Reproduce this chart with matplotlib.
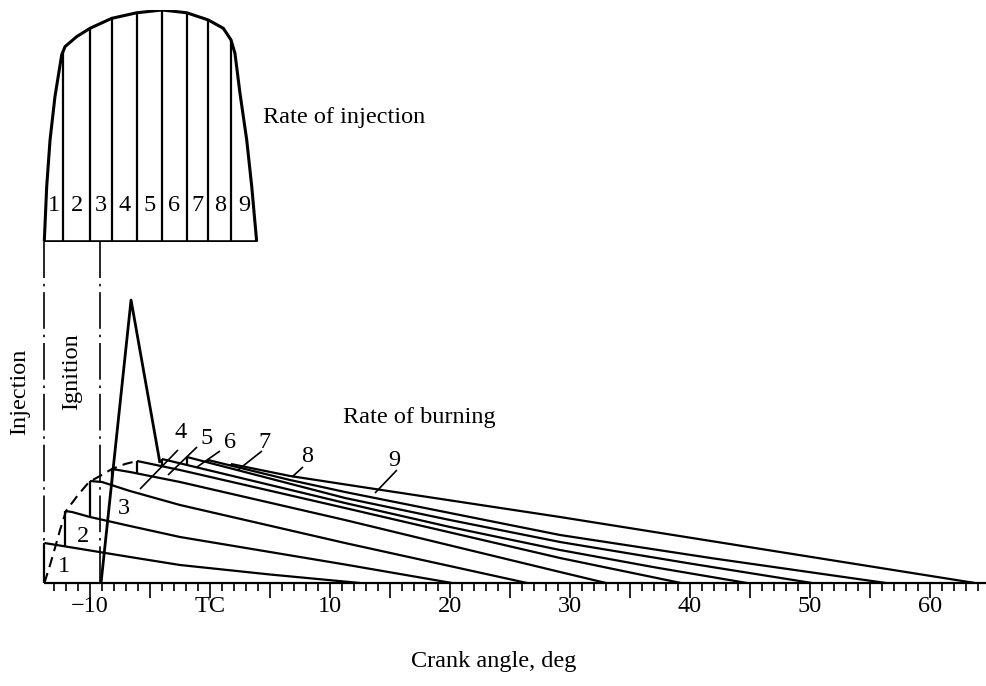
import numpy as np
import matplotlib.pyplot as plt

plt.rcParams['font.family'] = ['Liberation Serif', 'DejaVu Serif']

# crank angles (deg)
inj_start = -13.8
ign_angle = -9.15

# rate of injection outline (deg, rate normalised to peak)
inj_x = [-13.81, -13.61, -13.33, -12.92, -12.36, -12.08, -11.11, -10.0, -8.19, -6.11,
         -3.98, -1.94, -0.14, 1.11, 1.75, 2.08, 2.5, 3.06, 3.48, 3.89]
inj_r = [0.0, 0.237, 0.439, 0.626, 0.806, 0.842, 0.885, 0.921, 0.964, 0.988,
         1.0, 0.988, 0.957, 0.921, 0.871, 0.813, 0.640, 0.439, 0.237, 0.0]
slot_edges = [-12.22, -10.0, -8.19, -6.11, -3.98, -1.94, -0.14, 1.75]
slot_names = ['1', '2', '3', '4', '5', '6', '7', '8', '9']

# rate of burning of each injected element (deg, arbitrary rate)
b1_x = [-13.8, -6.67, -2.5, 5.0, 12.5]
b1_r = [4.0, 2.6, 1.8, 0.85, 0.0]
b2_x = [-12.08, -11.5, -10.0, -6.67, -2.5, 11.25, 20.17]
b2_r = [7.2, 7.1, 6.6, 5.7, 4.6, 1.85, 0.0]
b3_x = [-10.0, -9.0, -6.67, -2.5, 11.25, 26.42]
b3_r = [10.2, 10.1, 9.2, 7.8, 4.0, 0.0]
b4_x = [-8.17, -6.67, -2.5, 11.25, 29.17, 33.0]
b4_r = [11.4, 11.1, 10.1, 6.3, 1.1, 0.0]
b5_x = [-6.08, -2.5, 11.25, 29.17, 39.25]
b5_r = [12.2, 11.3, 7.5, 2.5, 0.0]
b6_x = [-4.0, 11.25, 20.0, 29.17, 37.0, 44.75]
b6_r = [12.4, 8.0, 5.6, 3.3, 1.58, 0.0]
b7_x = [-1.92, 11.25, 20.0, 29.17, 40.0, 50.17]
b7_r = [12.6, 8.5, 6.3, 4.1, 1.95, 0.0]
b8_x = [-0.17, 6.67, 11.25, 20.0, 29.17, 42.0, 56.33]
b8_r = [12.3, 10.3, 9.1, 7.0, 4.8, 2.45, 0.0]
b9_x = [1.75, 6.67, 13.75, 29.17, 63.75]
b9_r = [11.9, 10.7, 9.4, 6.6, 0.0]

# premixed spike after ignition
spike_x = [-9.08, -6.58, -4.17]
spike_r = [0.0, 28.3, 12.0]

# dashed envelope through the start points
env_x = [-13.8, -13.33, -12.92, -12.5, -12.0, -11.0, -10.08, -9.17, -8.17, -7.08, -6.08]
env_r = [0.0, 1.8, 3.5, 5.3, 7.2, 8.8, 10.1, 10.7, 11.4, 11.9, 12.2]

# labels of the burning curves and their leader lines
lab_x = [-12.17, -10.58, -7.17, -2.42, -0.25, 1.67, 4.58, 8.08, 15.33]
lab_r = [1.7, 4.7, 7.5, 15.0, 14.5, 14.1, 14.0, 12.7, 12.2]
lead = {4: [(-2.67, 13.3), (-5.83, 9.4)], 5: [(-1.08, 13.6), (-3.5, 10.8)],
        6: [(0.83, 13.2), (-1.08, 11.6)], 7: [(4.33, 13.2), (2.33, 11.3)],
        8: [(7.75, 11.6), (6.83, 10.6)], 9: [(15.58, 11.3), (13.75, 9.0)]}

tick_vals = [-10, 0, 10, 20, 30, 40, 50, 60]
tick_text = ['\u221210', 'TC', '10', '20', '30', '40', '50', '60']

burn_x = [b1_x, b2_x, b3_x, b4_x, b5_x, b6_x, b7_x, b8_x, b9_x]
burn_r = [b1_r, b2_r, b3_r, b4_r, b5_r, b6_r, b7_r, b8_r, b9_r]

fig = plt.figure(figsize=(9.86, 6.86), dpi=100)
ax = fig.add_axes([0, 0, 1, 1])
ax.set_xlim(-17.5, 64.667)
ax.set_ylim(-10.3, 58.3)
ax.axis('off')

k = dict(color='black', solid_capstyle='butt', solid_joinstyle='round')
fs = 17.5

# baseline and degree ticks
ax.plot([inj_start, 64.7], [0, 0], lw=1.6, **k)
for d in range(-13, 65):
    ln = 1.5 if d % 5 == 0 else 0.75
    ax.plot([d, d], [0, -ln], lw=1.2, **k)
for v, t in zip(tick_vals, tick_text):
    ax.text(v, -2.3, t, ha='center', va='center', fontsize=fs)
ax.text(23.6, -7.8, 'Crank angle, deg', ha='center', va='center', fontsize=fs)

# injection / ignition dash-dot lines
ax.plot([inj_start, inj_start], [0, 34.1], lw=1.2, dashes=(22, 3.5, 1.5, 3.5), color='black')
ax.plot([ign_angle, ign_angle], [0, 34.1], lw=1.2, dashes=(22, 3.5, 1.5, 3.5), color='black')
ax.text(-15.83, 19.1, 'Injection', rotation=90, ha='center', va='center', fontsize=fs)
ax.text(-11.5, 21.1, 'Ignition', rotation=90, ha='center', va='center', fontsize=fs)

# burning curves with vertical steps
for i in range(9):
    ax.plot(burn_x[i], burn_r[i], lw=1.6, **k)
    if i == 0:
        base = 0.0
    else:
        base = np.interp(burn_x[i][0], burn_x[i - 1], burn_r[i - 1])
    ax.plot([burn_x[i][0], burn_x[i][0]], [base, burn_r[i][0]], lw=1.6, **k)

ax.plot(spike_x, spike_r, lw=2.0, **k)
ax.plot(env_x, env_r, lw=1.5, dashes=(5, 3), color='black')

for i in range(9):
    ax.text(lab_x[i], lab_r[i], slot_names[i], ha='center', va='center', fontsize=fs)
for n, seg in lead.items():
    ax.plot([seg[0][0], seg[1][0]], [seg[0][1], seg[1][1]], lw=1.2, **k)

ax.text(11.08, 16.5, 'Rate of burning', ha='left', va='center', fontsize=fs)
ax.text(4.42, 46.5, 'Rate of injection', ha='left', va='center', fontsize=fs)

# rate of injection diagram
axi = fig.add_axes([0, (686 - 241.7) / 686, 1, 231.7 / 686])
axi.set_xlim(-17.5, 64.667)
axi.set_ylim(0, 1)
axi.axis('off')
axi.plot(inj_x, inj_r, lw=2.2, **k)
axi.plot([inj_x[0], inj_x[-1]], [0, 0], lw=2.6, **k)
for e in slot_edges:
    axi.plot([e, e], [0, np.interp(e, inj_x, inj_r)], lw=1.6, **k)
edges = [inj_x[0]] + slot_edges + [inj_x[-1]]
for i in range(9):
    axi.text((edges[i] + edges[i + 1]) / 2, 0.158, slot_names[i], ha='center', va='center', fontsize=fs)

fig.savefig('out.png', dpi=100)
